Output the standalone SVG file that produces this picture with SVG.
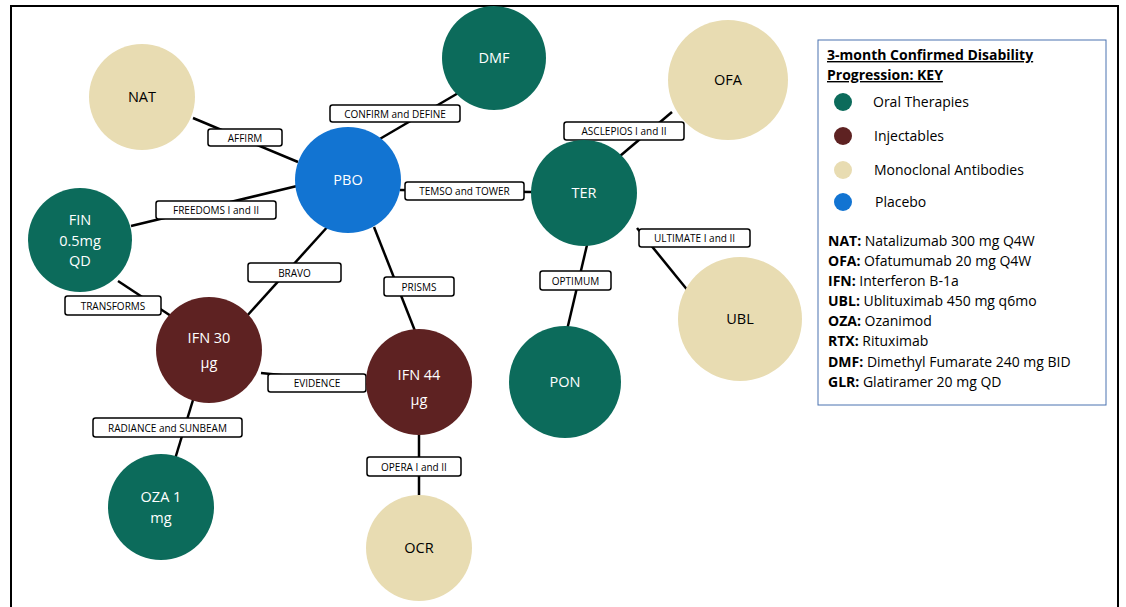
<svg xmlns="http://www.w3.org/2000/svg" width="1126" height="607" viewBox="0 0 1126 607">
<style>
.oral{fill:#0c6b5b}.inj{fill:#5e2222}.mab{fill:#e8dcb2}.pbo{fill:#1274d2}
.nt{font-family:"Open Sans","Liberation Sans",sans-serif;font-size:14.5px;text-anchor:middle}
.w{fill:#fff}.k{fill:#000}
.lb rect{fill:#fff;stroke:#000;stroke-width:1.5}
.lb text{font-family:"Open Sans","Liberation Sans",sans-serif;font-size:10px;text-anchor:middle;fill:#000}
.key{font-family:"Open Sans","Liberation Sans",sans-serif;font-size:14px;fill:#000}
</style>
<rect x="0" y="0" width="1126" height="607" fill="#fff"/>
<path d="M11,620 V6 H1118 V620" fill="none" stroke="#000" stroke-width="2"/>
<g id="connectors" stroke="#000" stroke-width="2.5" fill="none">
<line x1="193" y1="118" x2="298" y2="162"/>
<line x1="460" y1="92" x2="378" y2="140"/>
<line x1="400" y1="190" x2="532" y2="192"/>
<line x1="620" y1="156" x2="672" y2="112"/>
<line x1="131" y1="226" x2="297" y2="186"/>
<line x1="637" y1="228" x2="689" y2="292"/>
<line x1="330" y1="224" x2="246" y2="317"/>
<line x1="587" y1="245" x2="567" y2="330"/>
<line x1="374" y1="227" x2="417" y2="336"/>
<line x1="118" y1="281" x2="174" y2="318"/>
<line x1="261" y1="373" x2="368" y2="384"/>
<line x1="193" y1="400" x2="175" y2="459"/>
<line x1="419" y1="434" x2="419" y2="497"/>
</g>
<g id="labels" class="lb">
<g><rect x="208" y="129" width="74" height="17" rx="2.5"/><text x="245" y="141.5">AFFIRM</text></g>
<g><rect x="330" y="105" width="130" height="17" rx="2.5"/><text x="395" y="117.5">CONFIRM and DEFINE</text></g>
<g><rect x="405" y="182" width="119" height="18" rx="2.5"/><text x="464.5" y="195">TEMSO and TOWER</text></g>
<g><rect x="564" y="122" width="120" height="18" rx="2.5"/><text x="624" y="135">ASCLEPIOS I and II</text></g>
<g><rect x="156" y="201" width="120" height="18" rx="2.5"/><text x="216" y="214">FREEDOMS I and II</text></g>
<g><rect x="639" y="229" width="111" height="18" rx="2.5"/><text x="694.5" y="242">ULTIMATE I and II</text></g>
<g><rect x="248" y="263" width="93" height="19" rx="2.5"/><text x="294.5" y="276.5">BRAVO</text></g>
<g><rect x="540" y="271" width="71" height="19" rx="2.5"/><text x="575.5" y="284.5">OPTIMUM</text></g>
<g><rect x="384" y="277" width="70" height="19" rx="2.5"/><text x="419" y="290.5">PRISMS</text></g>
<g><rect x="65" y="296" width="96" height="19" rx="2.5"/><text x="113" y="309.5">TRANSFORMS</text></g>
<g><rect x="268" y="374" width="98" height="18" rx="2.5"/><text x="317" y="387">EVIDENCE</text></g>
<g><rect x="93" y="418" width="149" height="19" rx="2.5"/><text x="167.5" y="431.5">RADIANCE and SUNBEAM</text></g>
<g><rect x="367" y="457" width="94" height="19" rx="2.5"/><text x="414" y="470.5">OPERA I and II</text></g>
</g>
<g id="NAT"><ellipse class="mab" cx="142" cy="97" rx="53" ry="53"/><text class="nt k" x="142" y="102">NAT</text></g>
<g id="DMF"><ellipse class="oral" cx="494" cy="58" rx="52" ry="52"/><text class="nt w" x="494" y="63">DMF</text></g>
<g id="OFA"><ellipse class="mab" cx="728" cy="80" rx="60" ry="60"/><text class="nt k" x="728" y="85">OFA</text></g>
<g id="PBO"><ellipse class="pbo" cx="348" cy="180" rx="53" ry="53"/><text class="nt w" x="348" y="185">PBO</text></g>
<g id="TER"><ellipse class="oral" cx="584" cy="193" rx="53" ry="53"/><text class="nt w" x="584" y="198">TER</text></g>
<g id="FIN"><ellipse class="oral" cx="80" cy="240" rx="52" ry="52"/><text class="nt w" x="80" y="225">FIN</text><text class="nt w" x="80" y="246">0.5mg</text><text class="nt w" x="80" y="266">QD</text></g>
<g id="UBL"><ellipse class="mab" cx="740" cy="319" rx="62" ry="62"/><text class="nt k" x="740" y="324">UBL</text></g>
<g id="IFN30"><ellipse class="inj" cx="209" cy="350" rx="53" ry="53"/><text class="nt w" x="209" y="343">IFN 30</text><text class="nt w" x="209" y="368">μg</text></g>
<g id="IFN44"><ellipse class="inj" cx="419" cy="382" rx="53" ry="53"/><text class="nt w" x="419" y="380">IFN 44</text><text class="nt w" x="419" y="405">μg</text></g>
<g id="PON"><ellipse class="oral" cx="565" cy="382" rx="56" ry="56"/><text class="nt w" x="565" y="387">PON</text></g>
<g id="OZA"><ellipse class="oral" cx="161" cy="507" rx="53" ry="53"/><text class="nt w" x="161" y="502">OZA 1</text><text class="nt w" x="161" y="523">mg</text></g>
<g id="OCR"><ellipse class="mab" cx="419" cy="548" rx="53" ry="53"/><text class="nt k" x="419" y="553">OCR</text></g>
<g id="key">
<rect x="818" y="40" width="288" height="365" fill="#fff" stroke="#4a72b0" stroke-width="1"/>
<text class="key" x="827" y="60" font-weight="bold" text-decoration="underline">3-month Confirmed Disability</text>
<text class="key" x="827" y="80" font-weight="bold" text-decoration="underline">Progression: KEY</text>
<circle class="oral" cx="843" cy="102" r="9"/><text class="key" x="873" y="107">Oral Therapies</text>
<circle class="inj" cx="843" cy="136" r="9"/><text class="key" x="874" y="141">Injectables</text>
<circle class="mab" cx="843" cy="170" r="9"/><text class="key" x="874" y="175">Monoclonal Antibodies</text>
<circle class="pbo" cx="843" cy="202" r="9"/><text class="key" x="875" y="207">Placebo</text>
<text class="key" x="828" y="246"><tspan font-weight="bold">NAT:</tspan> Natalizumab 300 mg Q4W</text>
<text class="key" x="828" y="266"><tspan font-weight="bold">OFA:</tspan> Ofatumumab 20 mg Q4W</text>
<text class="key" x="828" y="286"><tspan font-weight="bold">IFN:</tspan> Interferon B-1a</text>
<text class="key" x="828" y="306"><tspan font-weight="bold">UBL:</tspan> Ublituximab 450 mg q6mo</text>
<text class="key" x="828" y="326"><tspan font-weight="bold">OZA:</tspan> Ozanimod</text>
<text class="key" x="828" y="346"><tspan font-weight="bold">RTX:</tspan> Rituximab</text>
<text class="key" x="828" y="367"><tspan font-weight="bold">DMF:</tspan> Dimethyl Fumarate 240 mg BID</text>
<text class="key" x="828" y="387"><tspan font-weight="bold">GLR:</tspan> Glatiramer 20 mg QD</text>
</g>
</svg>
